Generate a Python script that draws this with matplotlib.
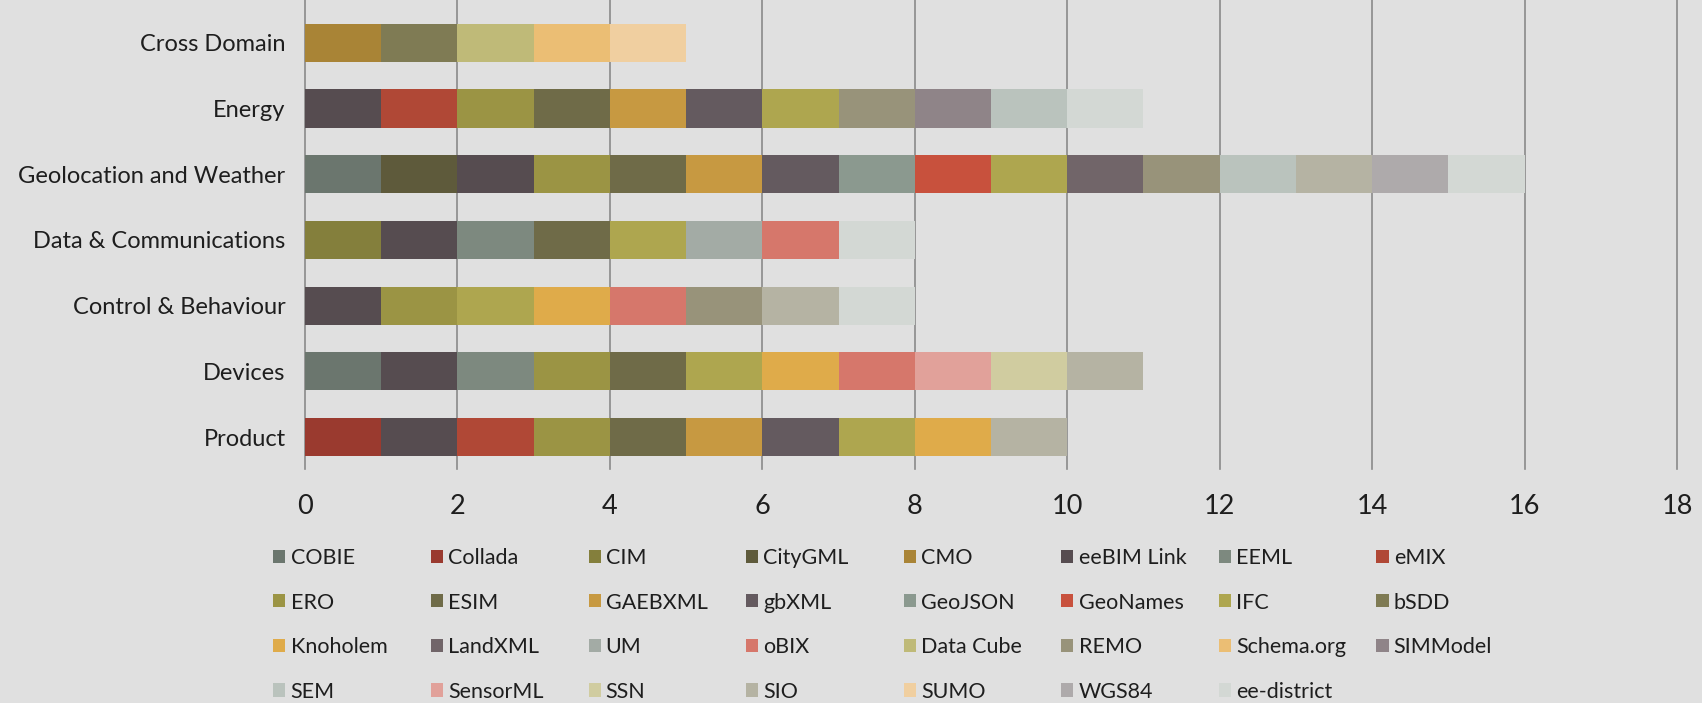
import matplotlib
matplotlib.use("Agg")
import matplotlib.pyplot as plt
import numpy as np
from matplotlib.patches import Patch

plt.rcParams['font.family'] = ['Lato', 'DejaVu Sans']

categories = ["Product", "Devices", "Control & Behaviour", "Data & Communications",
              "Geolocation and Weather", "Energy", "Cross Domain"]

series_names = ["COBIE", "Collada", "CIM", "CityGML", "CMO", "eeBIM Link", "EEML", "eMIX",
                "ERO", "ESIM", "GAEBXML", "gbXML", "GeoJSON", "GeoNames", "IFC", "bSDD",
                "Knoholem", "LandXML", "UM", "oBIX", "Data Cube", "REMO", "Schema.org", "SIMModel",
                "SEM", "SensorML", "SSN", "SIO", "SUMO", "WGS84", "ee-district"]

# values per category in order: Product, Devices, Control, Data, Geo, Energy, Cross
series_values = [
    [0, 1, 0, 0, 1, 0, 0],  # COBIE
    [1, 0, 0, 0, 0, 0, 0],  # Collada
    [0, 0, 0, 1, 0, 0, 0],  # CIM
    [0, 0, 0, 0, 1, 0, 0],  # CityGML
    [0, 0, 0, 0, 0, 0, 1],  # CMO
    [1, 1, 1, 1, 1, 1, 0],  # eeBIM Link
    [0, 1, 0, 1, 0, 0, 0],  # EEML
    [1, 0, 0, 0, 0, 1, 0],  # eMIX
    [1, 1, 1, 0, 1, 1, 0],  # ERO
    [1, 1, 0, 1, 1, 1, 0],  # ESIM
    [1, 0, 0, 0, 1, 1, 0],  # GAEBXML
    [1, 0, 0, 0, 1, 1, 0],  # gbXML
    [0, 0, 0, 0, 1, 0, 0],  # GeoJSON
    [0, 0, 0, 0, 1, 0, 0],  # GeoNames
    [1, 1, 1, 1, 1, 1, 0],  # IFC
    [0, 0, 0, 0, 0, 0, 1],  # bSDD
    [1, 1, 1, 0, 0, 0, 0],  # Knoholem
    [0, 0, 0, 0, 1, 0, 0],  # LandXML
    [0, 0, 0, 1, 0, 0, 0],  # UM
    [0, 1, 1, 1, 0, 0, 0],  # oBIX
    [0, 0, 0, 0, 0, 0, 1],  # Data Cube
    [0, 0, 1, 0, 1, 1, 0],  # REMO
    [0, 0, 0, 0, 0, 0, 1],  # Schema.org
    [0, 0, 0, 0, 0, 1, 0],  # SIMModel
    [0, 0, 0, 0, 1, 1, 0],  # SEM
    [0, 1, 0, 0, 0, 0, 0],  # SensorML
    [0, 1, 0, 0, 0, 0, 0],  # SSN
    [1, 1, 1, 0, 1, 0, 0],  # SIO
    [0, 0, 0, 0, 0, 0, 1],  # SUMO
    [0, 0, 0, 0, 1, 0, 0],  # WGS84
    [0, 0, 1, 1, 1, 1, 0],  # ee-district
]

series_colors = ["#6b766e", "#9a3a2f", "#847f3c", "#5e5a3b", "#a98436", "#564c50", "#7d897f", "#b04836",
                 "#9b9444", "#6f6b48", "#c79941", "#645a5f", "#8b998f", "#c8513d", "#aea64f", "#7f7b54",
                 "#dfab4a", "#716569", "#a3aba5", "#d6776b", "#bfba78", "#98937a", "#ebbe74", "#8f8488",
                 "#bac3bd", "#e1a19a", "#d0cca0", "#b5b3a3", "#f0cfa0", "#aeaaab", "#d3d8d4"]

x_ticks = [0, 2, 4, 6, 8, 10, 12, 14, 16, 18]

BG = "#e0e0e0"
W, H = 1702, 703
fig = plt.figure(figsize=(W / 100, H / 100), dpi=100, facecolor=BG)
ax = fig.add_axes([305 / W, 1 - 469 / H, (1677 - 305) / W, 469 / H])
ax.set_facecolor(BG)

ypos = np.arange(len(categories))
left = np.zeros(len(categories))
for name, vals, col in zip(series_names, series_values, series_colors):
    vals = np.array(vals, dtype=float)
    ax.barh(ypos, vals, left=left, height=0.58, color=col, linewidth=0, label=name, zorder=3)
    left += vals

ax.set_xlim(0, 18)
ax.set_ylim(-0.487, 6.651)
ax.set_xticks(x_ticks)
ax.set_xticklabels([str(t) for t in x_ticks], fontsize=19.5, color="#1e1e1e")
ax.set_yticks(ypos)
ax.set_yticklabels(categories, fontsize=17, color="#1e1e1e")
ax.tick_params(axis='both', length=0)
ax.tick_params(axis='x', pad=18)
ax.tick_params(axis='y', pad=14)
for s in ax.spines.values():
    s.set_visible(False)
ax.xaxis.grid(True, color="#8a8a8a", linewidth=1.2, zorder=1)
ax.set_axisbelow(True)
for gl in ax.get_xgridlines():
    gl.set_clip_on(False)

# legend: 8 columns, row-major order
ncol = 8
col_x0, col_step = 273.3, 157.6
row_top = 559 - 11
for c in range(ncol):
    idx = list(range(c, len(series_names), ncol))
    handles = [Patch(facecolor=series_colors[i], edgecolor='none') for i in idx]
    labels = [series_names[i] for i in idx]
    fig.legend(handles, labels, loc='upper left',
               bbox_to_anchor=(col_x0 / W, 1 - row_top / H),
               frameon=False, fontsize=15.5, handlelength=0.56, handleheight=0.56,
               handletextpad=0.24, labelspacing=1.14, borderpad=0, borderaxespad=0,
               labelcolor="#1e1e1e")
    col_x0 += col_step

fig.savefig("out.png", dpi=100, facecolor=BG)
